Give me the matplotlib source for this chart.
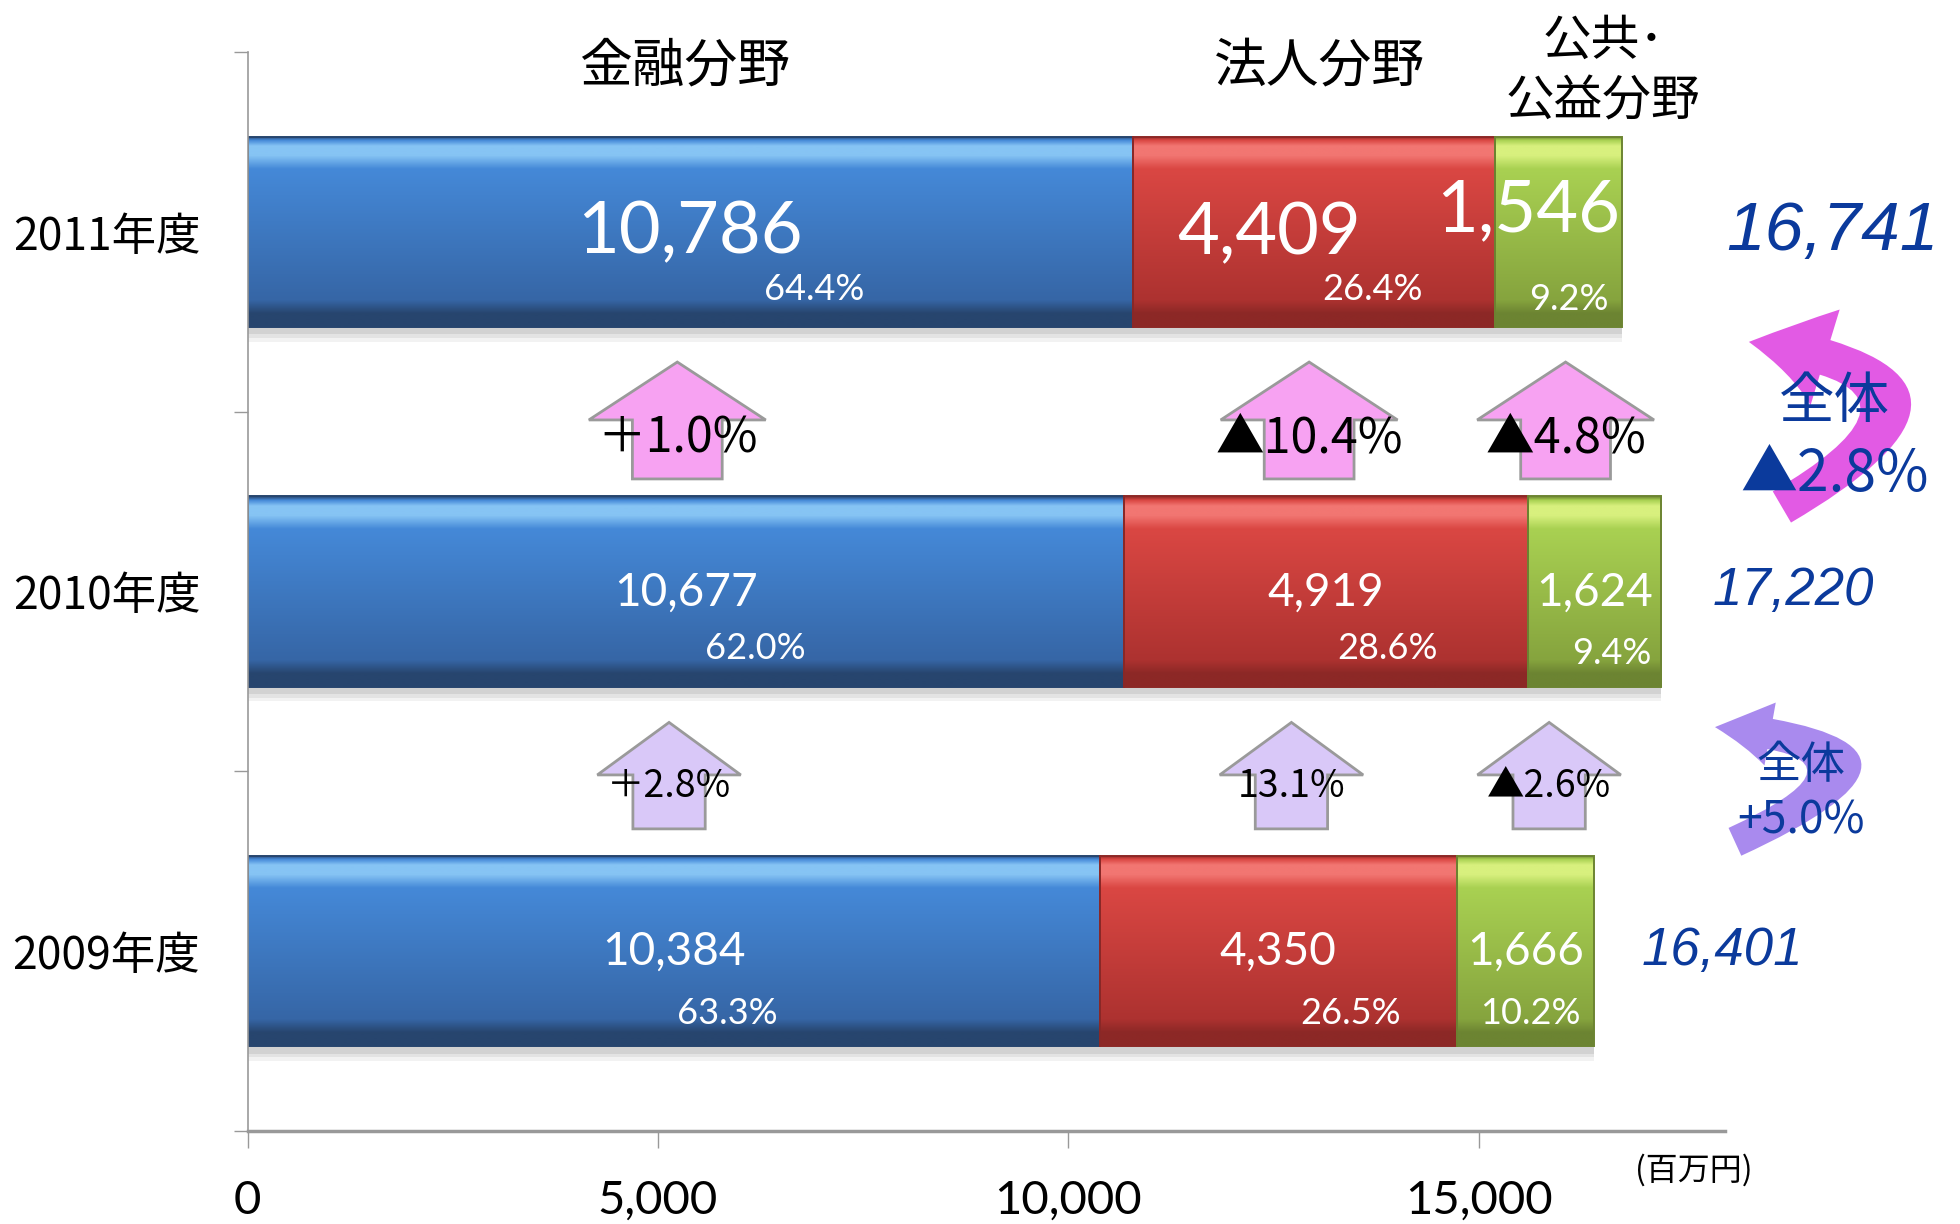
import numpy as np
import matplotlib.pyplot as plt
from matplotlib.patches import FancyArrow, FancyArrowPatch
from matplotlib.colors import to_rgb

# data
years = ['2009年度', '2010年度', '2011年度']
sectors = ['金融分野', '法人分野', '公共･\n公益分野']
finance = [10384, 10677, 10786]
corporate = [4350, 4919, 4409]
public = [1666, 1624, 1546]
shares = [['63.3%', '26.5%', '10.2%'],
          ['62.0%', '28.6%', '9.4%'],
          ['64.4%', '26.4%', '9.2%']]
totals = [16401, 17220, 16741]
growth_10 = ['＋2.8%', '13.1%', '▲2.6%']    # 2009 -> 2010
growth_11 = ['＋1.0%', '▲10.4%', '▲4.8%']   # 2010 -> 2011
total_growth = ['+5.0%', '▲2.8%']
xticks = [0, 5000, 10000, 15000]

JP = ['Noto Sans CJK JP', 'DejaVu Sans']
NUM = ['Lato', 'DejaVu Sans']
ITAL = ['Liberation Sans', 'DejaVu Sans']
NAVY = '#0b3a9c'
plt.rcParams['font.family'] = JP

fig = plt.figure(figsize=(19.6, 12.24), dpi=100)
ax = fig.add_axes([0.1263, 0.076, 0.7538, 0.8815])

ypos = np.arange(len(years))
h = 0.53
series = [finance, corporate, public]
# dark edge, highlight, top, bottom
styles = [('#27456e', '#86c4f4', '#4589d8', '#3666a6'),
          ('#8c2826', '#f27672', '#da4743', '#ad3230'),
          ('#6c8432', '#d8f07e', '#a9d152', '#86a43e')]


def gradient(dark, hi, top, bot, n=240):
    stops = [0, 0.02, 0.05, 0.10, 0.17, 0.86, 0.93, 1.0]
    cols = np.array([to_rgb(c) for c in [dark, top, hi, hi, top, bot, dark, dark]])
    t = np.linspace(0, 1, n)
    g = np.stack([np.interp(t, stops, cols[:, k]) for k in range(3)], axis=1)
    return g[:, None, :]


# soft shadow under the bars
sums = np.sum(series, axis=0)
for off, a in [(0.04, 0.10), (0.03, 0.14), (0.02, 0.18)]:
    ax.barh(ypos - off, sums, height=h, color='#888888', alpha=a,
            linewidth=0, zorder=1)

left = np.zeros(len(years))
centers = []
for vals, (dark, hi, top, bot) in zip(series, styles):
    vals = np.array(vals)
    bars = ax.barh(ypos, vals, left=left, height=h, color=top,
                   linewidth=0, zorder=2)
    grad = gradient(dark, hi, top, bot)
    for b in bars:
        x0, y0 = b.get_x(), b.get_y()
        im = ax.imshow(grad, extent=[x0, x0 + b.get_width(), y0, y0 + b.get_height()],
                       aspect='auto', interpolation='bilinear', zorder=2.1)
        im.set_clip_path(b)
    ax.barh(ypos, vals, left=left, height=h, fill=False, edgecolor=dark,
            linewidth=1.4, zorder=2.2)
    centers.append(left + vals / 2)
    left = left + vals

# value + share labels
val_size = [33, 33, 52]
val_shift = {(2, 1): (-45, -2), (2, 2): (-30, 21)}
pct_shift = [[(54, -62), (72, -62), (5, -62)],
             [(70, -57), (62, -57), (17, -62)],
             [(124, -58), (59, -58), (11, -68)]]
for i in range(len(years)):
    for j, vals in enumerate(series):
        dx, dy = val_shift.get((i, j), (0, -1))
        ax.annotate(f'{vals[i]:,}', (centers[j][i], ypos[i]), xytext=(dx, dy),
                    textcoords='offset pixels', ha='center', va='center',
                    color='white', fontsize=val_size[i], family=NUM, zorder=5)
        px, py = pct_shift[i][j]
        ax.annotate(shares[i][j], (centers[j][i], ypos[i]), xytext=(px, py),
                    textcoords='offset pixels', ha='center', va='center',
                    color='white', fontsize=26, family=NUM, zorder=5)
    tot_dx = [129, 132, 211][i]
    ax.annotate(f'{totals[i]:,}', (sums[i], ypos[i]), xytext=(tot_dx, 0),
                textcoords='offset pixels', ha='center', va='center',
                color=NAVY, fontsize=[38, 38, 50][i], style='italic',
                family=ITAL, annotation_clip=False)

# sector headers above the 2011 bar
for j, name in enumerate(sectors):
    ax.annotate(name, (centers[j][2], [0.987, 0.987, 0.982][j]),
                xycoords=('data', 'axes fraction'),
                xytext=([-6, 6, 45][j], 0), textcoords='offset pixels',
                ha='center', va='center', fontsize=[38, 38, 35][j],
                linespacing=1.3, annotation_clip=False)

# growth block arrows
arrow_sets = [(0.5, growth_10, '#d9c8f8', 0.296, 881, 1748, 0.146, -0.16, -0.042, 27),
              (1.5, growth_11, '#f7a2f2', 0.325, 1094, 2155, 0.161, -0.187, -0.076, 35)]
for k, (yb, labels, fc, L, w, hw, hl, base, ty, fs) in enumerate(arrow_sets):
    for j in range(3):
        x = (centers[j][k] + centers[j][k + 1]) / 2 - 130
        ax.add_patch(FancyArrow(x, yb + base, 0, L, width=w, head_width=hw,
                                head_length=hl, length_includes_head=True,
                                facecolor=fc, edgecolor='#9a9a9a',
                                linewidth=2, zorder=3))
        ax.text(x, yb + ty, labels[j], ha='center', va='center',
                fontsize=fs, zorder=4)

# curved overall-change arrows on the right
curves = [(0.5, (18121, -0.196), (17878, 0.123), 1.9, '#a98aee', 2.2, 4.6, 4.0),
          (1.5, (18693, -0.265), (18291, 0.194), 1.45, '#e25ae4', 2.6, 7.2, 5.6)]
for yb, tail, head, rad, col, tw, hw, hl in curves:
    arr = FancyArrowPatch((tail[0], yb + tail[1]), (head[0], yb + head[1]),
                          connectionstyle=f'arc3,rad={rad}',
                          arrowstyle=f'simple,tail_width={tw},head_width={hw},head_length={hl}',
                          mutation_scale=10, shrinkA=0, shrinkB=0,
                          facecolor=col, edgecolor='none', clip_on=False, zorder=3)
    ax.add_patch(arr)

ax.text(18925, 0.518, '全体', ha='center', va='center', fontsize=32,
        color=NAVY, zorder=4, clip_on=False)
ax.text(18925, 0.362, total_growth[0], ha='center', va='center', fontsize=32,
        color=NAVY, zorder=4, clip_on=False)
ax.text(19330, 1.527, '全体', ha='center', va='center', fontsize=40,
        color=NAVY, zorder=4, clip_on=False)
ax.text(19330, 1.324, total_growth[1], ha='center', va='center', fontsize=41,
        color=NAVY, zorder=4, clip_on=False)

ax.text(0.979, -0.036, '(百万円)', transform=ax.transAxes, ha='center',
        va='center', fontsize=23)

# axes
ax.set_xlim(0, 18000)
ax.set_ylim(-0.5, 2.5)
ax.set_aspect('auto')
ax.set_xticks(xticks, labels=[f'{v:,}' for v in xticks])
for lab in ax.get_xticklabels():
    lab.set_fontfamily(NUM)
ax.tick_params(axis='x', length=12, width=1, color='#999999', pad=23, labelsize=34)
ax.set_yticks([-0.5, 0.5, 1.5, 2.5], labels=[])
ax.set_yticks(ypos, labels=years, minor=True)
ax.tick_params(axis='y', which='major', length=10, width=1, color='#999999')
ax.tick_params(axis='y', which='minor', length=0, pad=34, labelsize=32)
for s in ['top', 'right']:
    ax.spines[s].set_visible(False)
ax.spines['left'].set_color('#999999')
ax.spines['left'].set_linewidth(1.2)
ax.spines['bottom'].set_color('#999999')
ax.spines['bottom'].set_linewidth(2.5)

fig.savefig('out.png', dpi=100)
